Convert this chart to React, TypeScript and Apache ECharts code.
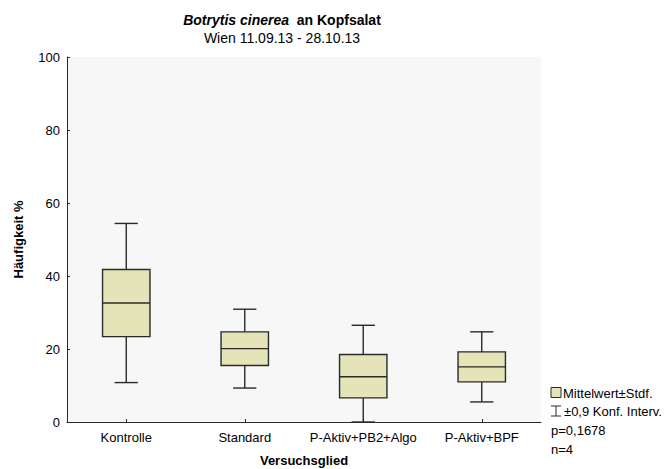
import React, { useEffect, useRef } from "react";
import * as echarts from "echarts";

const categories = ["Kontrolle", "Standard", "P-Aktiv+PB2+Algo", "P-Aktiv+BPF"];
const means = [32.6, 20.1, 12.4, 15.1];
const sdLow = [23.4, 15.5, 6.6, 11.0];
const sdHigh = [41.8, 24.7, 18.5, 19.2];
const ciLow = [10.8, 9.3, 0, 5.5];
const ciHigh = [54.4, 30.9, 26.5, 24.7];
const yTicks = [0, 20, 40, 60, 80, 100];

const FONT = "'Liberation Sans', Arial, Helvetica, sans-serif";
const BOX_FILL = "#e4e4b8";
const LINE = "#2a2a2a";

export default function App() {
  const ref = useRef<HTMLDivElement>(null);

  useEffect(() => {
    if (!ref.current) return;
    const chart = echarts.init(ref.current, undefined, { renderer: "svg" });

    const data = categories.map((c, i) => [i, ciLow[i], sdLow[i], means[i], sdHigh[i], ciHigh[i]]);

    const option: any = {
      animation: false,
      backgroundColor: "#ffffff",
      textStyle: { fontFamily: FONT },
      title: {
        top: 8,
        text: "{i|Botrytis cinerea}{b|  an Kopfsalat}",
        subtext: "Wien 11.09.13 - 28.10.13",
        itemGap: 4,
        left: 277,
        textAlign: "center",
        textStyle: {
          rich: {
            i: { fontFamily: FONT, fontSize: 14, fontWeight: "bold", fontStyle: "italic", color: "#000" },
            b: { fontFamily: FONT, fontSize: 14, fontWeight: "bold", color: "#000" },
          },
        },
        subtextStyle: { fontFamily: FONT, fontSize: 14, color: "#000" },
      },
      grid: {
        left: 67,
        right: 128,
        top: 57,
        bottom: 47,
        containLabel: false,
        outerBoundsMode: "none",
        show: true,
        backgroundColor: "#f7f7f7",
        borderWidth: 0,
      },
      xAxis: {
        type: "category",
        data: categories,
        boundaryGap: true,
        name: "Versuchsglied",
        nameLocation: "middle",
        nameGap: 32,
        nameTextStyle: { fontFamily: FONT, fontSize: 13, fontWeight: "bold", color: "#000" },
        axisLine: { show: true, lineStyle: { color: LINE, width: 1 } },
        axisTick: { show: true, inside: true, alignWithLabel: true, length: 3, lineStyle: { color: LINE } },
        axisLabel: { fontFamily: FONT, fontSize: 13, color: "#000", margin: 9, interval: 0 },
        splitLine: { show: false },
      },
      yAxis: {
        type: "value",
        min: yTicks[0],
        max: yTicks[yTicks.length - 1],
        interval: 20,
        name: "Häufigkeit %",
        nameLocation: "middle",
        nameRotate: 90,
        nameGap: 42,
        nameTextStyle: { fontFamily: FONT, fontSize: 13, fontWeight: "bold", color: "#000" },
        axisLine: { show: true, lineStyle: { color: LINE, width: 1 } },
        axisTick: { show: true, inside: true, length: 3, lineStyle: { color: LINE } },
        axisLabel: { fontFamily: FONT, fontSize: 13, color: "#000", margin: 7 },
        splitLine: { show: false },
      },
      series: [
        {
          type: "custom",
          name: "Mittelwert±Stdf.",
          data,
          encode: { x: 0, y: [1, 2, 3, 4, 5] },
          renderItem: (params: any, api: any) => {
            const idx = api.value(0);
            const lo = api.coord([idx, api.value(1)]);
            const q1 = api.coord([idx, api.value(2)]);
            const m = api.coord([idx, api.value(3)]);
            const q3 = api.coord([idx, api.value(4)]);
            const hi = api.coord([idx, api.value(5)]);
            const bandW = api.size([1, 0])[0];
            const boxHalf = bandW * 0.2;
            const capHalf = bandW * 0.098;
            const cx = m[0];
            const ls = { stroke: LINE, lineWidth: 1.4 };
            return {
              type: "group",
              children: [
                { type: "line", shape: { x1: cx, y1: q3[1], x2: cx, y2: hi[1] }, style: ls },
                { type: "line", shape: { x1: cx - capHalf, y1: hi[1], x2: cx + capHalf, y2: hi[1] }, style: ls },
                { type: "line", shape: { x1: cx, y1: q1[1], x2: cx, y2: lo[1] }, style: ls },
                { type: "line", shape: { x1: cx - capHalf, y1: lo[1], x2: cx + capHalf, y2: lo[1] }, style: ls },
                {
                  type: "rect",
                  shape: { x: cx - boxHalf, y: q3[1], width: boxHalf * 2, height: q1[1] - q3[1] },
                  style: { fill: BOX_FILL, stroke: LINE, lineWidth: 1.4 },
                },
                { type: "line", shape: { x1: cx - boxHalf, y1: m[1], x2: cx + boxHalf, y2: m[1] }, style: ls },
              ],
            };
          },
        },
      ],
      graphic: [
        {
          type: "rect",
          shape: { x: 551, y: 387.5, width: 10, height: 10 },
          style: { fill: BOX_FILL, stroke: LINE, lineWidth: 1 },
        },
        {
          type: "text",
          x: 563,
          y: 393,
          style: { text: "Mittelwert±Stdf.", fontFamily: FONT, fontSize: 13, fill: "#000", verticalAlign: "middle" },
        },
        { type: "line", shape: { x1: 556, y1: 406, x2: 556, y2: 416 }, style: { stroke: LINE, lineWidth: 1 } },
        { type: "line", shape: { x1: 551, y1: 406, x2: 561, y2: 406 }, style: { stroke: LINE, lineWidth: 1 } },
        { type: "line", shape: { x1: 551, y1: 416, x2: 561, y2: 416 }, style: { stroke: LINE, lineWidth: 1 } },
        {
          type: "text",
          x: 564,
          y: 411,
          style: { text: "±0,9 Konf. Interv.", fontFamily: FONT, fontSize: 13, fill: "#000", verticalAlign: "middle" },
        },
        {
          type: "text",
          x: 551,
          y: 430,
          style: { text: "p=0,1678", fontFamily: FONT, fontSize: 13, fill: "#000", verticalAlign: "middle" },
        },
        {
          type: "text",
          x: 551,
          y: 449,
          style: { text: "n=4", fontFamily: FONT, fontSize: 13, fill: "#000", verticalAlign: "middle" },
        },
      ],
    };

    chart.setOption(option);
    return () => chart.dispose();
  }, []);

  return (
    <div
      ref={ref}
      style={{ position: "fixed", left: 0, top: 0, width: 669, height: 469, background: "#fff" }}
    />
  );
}
